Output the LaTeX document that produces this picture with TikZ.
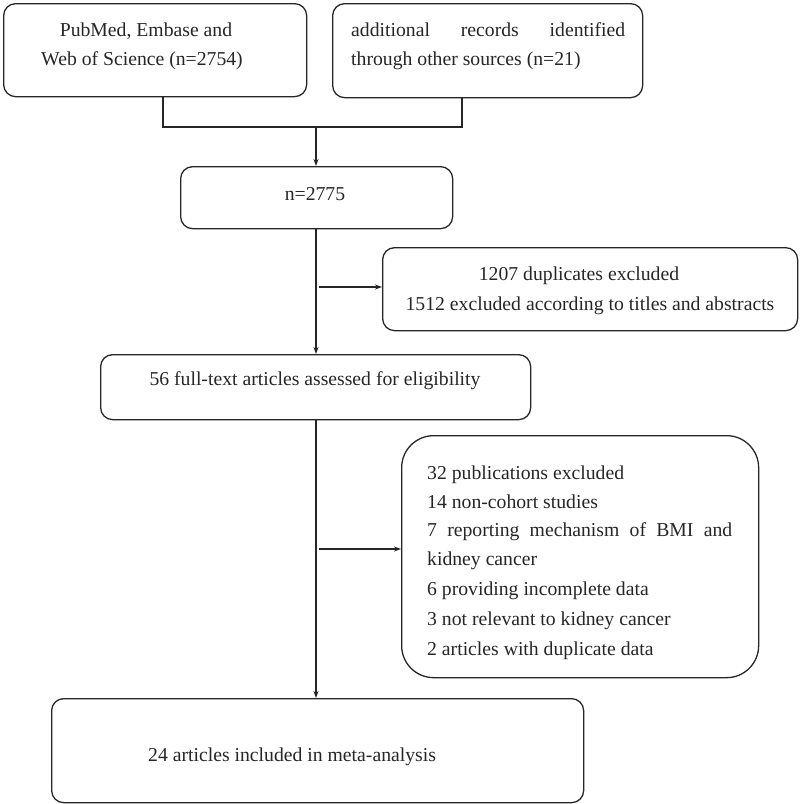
\documentclass[tikz,border=0pt]{standalone}
\usepackage{fontspec}
\setmainfont{Liberation Serif}
\usetikzlibrary{arrows.meta}
\begin{document}
\begin{tikzpicture}[x=1pt,y=-1pt,
  box/.style={draw=black!85, line width=1.3pt, rounded corners=12pt, inner sep=0pt, anchor=north west},
  txt/.style={inner sep=0pt, font=\fontsize{19.7}{29.4}\selectfont, text=black!85},
  conn/.style={draw=black!85, line width=1.2pt},
  arr/.style={conn, -{Stealth[length=7pt,width=5pt]}}]
\useasboundingbox (0,0) rectangle (800,804);
% boxes
\node[box, minimum width=303pt, minimum height=93pt] (b1) at (3,3) {};
\node[box, minimum width=310pt, minimum height=94pt] (b2) at (332,3) {};
\node[box, minimum width=272pt, minimum height=62pt] (b3) at (180,166) {};
\node[box, minimum width=415pt, minimum height=83pt] (b6) at (382,247) {};
\node[box, minimum width=430pt, minimum height=65pt] (b4) at (100,354) {};
\node[box, minimum width=357pt, minimum height=242pt, rounded corners=32pt] (b7) at (401,435) {};
\node[box, minimum width=532pt, minimum height=104pt] (b5) at (51,698) {};
% texts
\node[txt, anchor=base] (t1a) at (146,36) {PubMed, Embase and};
\node[txt, anchor=base] (t1b) at (142,65) {Web of Science (n=2754)};
\node[txt, anchor=base west] (t2a) at (351,36) {\hbox to 274pt{additional\hfill records\hfill identified}};
\node[txt, anchor=base west] (t2b) at (351,65) {through other sources (n=21)};
\node[txt, anchor=base] (t3) at (315,200) {n=2775};
\node[txt, anchor=base] (t6a) at (579,280) {1207 duplicates excluded};
\node[txt, anchor=base] (t6b) at (590,310) {1512 excluded according to titles and abstracts};
\node[txt, anchor=base] (t4) at (315,385) {56 full-text articles assessed for eligibility};
\node[txt, anchor=base west] (t7a) at (427,479) {32 publications excluded};
\node[txt, anchor=base west] (t7b) at (427,508) {14 non-cohort studies};
\node[txt, anchor=base west] (t7c) at (427,536) {\hbox to 305pt{7\hfill reporting\hfill mechanism\hfill of\hfill BMI\hfill and}};
\node[txt, anchor=base west] (t7d) at (427,565) {kidney cancer};
\node[txt, anchor=base west] (t7e) at (427,595) {6 providing incomplete data};
\node[txt, anchor=base west] (t7f) at (427,625) {3 not relevant to kidney cancer};
\node[txt, anchor=base west] (t7g) at (427,655) {2 articles with duplicate data};
\node[txt, anchor=base west] (t5) at (148,761) {24 articles included in meta-analysis};
% connectors
\coordinate (j1) at (163,127);
\coordinate (j2) at (462,127);
\coordinate (j0) at (316,127);
\coordinate (h1) at (319,287);
\coordinate (h2) at (319,549);
\draw[conn] (b1.south -| j1) -- (j1) -- (j2) -- (b2.south -| j2);
\draw[arr] (j0) -- (b3.north -| j0);
\draw[arr] (b3.south -| j0) -- (b4.north -| j0);
\draw[arr] (h1) -- (h1 -| b6.west);
\draw[arr] (b4.south -| j0) -- (b5.north -| j0);
\draw[arr] (h2) -- (h2 -| b7.west);
\end{tikzpicture}
\end{document}
